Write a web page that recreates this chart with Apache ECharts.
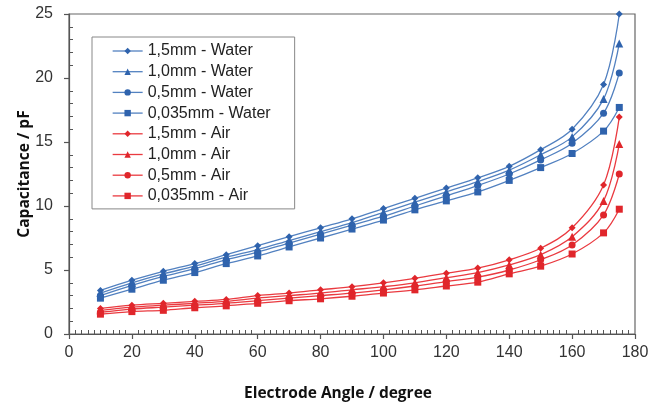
<!DOCTYPE html>
<html>
<head>
<meta charset="utf-8">
<script src="https://cdn.jsdelivr.net/npm/echarts@6/dist/echarts.min.js"></script>
<style>
  html, body { margin: 0; padding: 0; background: #fff; }
  #chart { width: 651px; height: 403px; }
</style>
</head>
<body>
<div id="chart"></div>
<script>
// electrode angle (degree)
const angles = [10, 20, 30, 40, 50, 60, 70, 80, 90, 100, 110, 120, 130, 140, 150, 160, 170, 175]

// capacitance (pF), water
const water15 = [3.4, 4.2, 4.9, 5.5, 6.2, 6.9, 7.6, 8.3, 9.0, 9.8, 10.6, 11.4, 12.2, 13.1, 14.4, 16.0, 19.5, 25.0]
const water10 = [3.2, 4.0, 4.7, 5.3, 6.0, 6.6, 7.3, 8.0, 8.7, 9.5, 10.3, 11.1, 11.9, 12.8, 14.0, 15.4, 18.35, 22.7]
const water05 = [3.0, 3.8, 4.5, 5.1, 5.8, 6.4, 7.1, 7.8, 8.5, 9.2, 10.0, 10.8, 11.6, 12.5, 13.6, 14.9, 17.25, 20.4]
const water0035 = [2.8, 3.5, 4.2, 4.8, 5.5, 6.1, 6.8, 7.5, 8.2, 8.9, 9.7, 10.4, 11.1, 12.0, 13.0, 14.1, 15.85, 17.7]

// capacitance (pF), air
const air15 = [2.0, 2.25, 2.4, 2.55, 2.7, 3.0, 3.2, 3.45, 3.7, 4.0, 4.35, 4.75, 5.15, 5.8, 6.7, 8.3, 11.65, 16.95]
const air10 = [1.85, 2.1, 2.25, 2.4, 2.55, 2.8, 3.0, 3.2, 3.45, 3.7, 4.0, 4.4, 4.8, 5.4, 6.2, 7.6, 10.4, 14.85]
const air05 = [1.7, 1.95, 2.1, 2.25, 2.4, 2.6, 2.8, 3.0, 3.2, 3.45, 3.75, 4.1, 4.45, 5.0, 5.8, 6.95, 9.3, 12.5]
const air0035 = [1.55, 1.75, 1.85, 2.05, 2.2, 2.4, 2.6, 2.75, 2.95, 3.2, 3.45, 3.75, 4.05, 4.7, 5.3, 6.25, 7.9, 9.75]

const seriesNames = [
  '1,5mm - Water', '1,0mm - Water', '0,5mm - Water', '0,035mm - Water',
  '1,5mm - Air', '1,0mm - Air', '0,5mm - Air', '0,035mm - Air'
]
const seriesValues = [water15, water10, water05, water0035, air15, air10, air05, air0035]
const symbols = ['diamond', 'triangle', 'circle', 'rect']

const BLUE_LINE = '#5281c0'
const BLUE_MARK = '#2f63ad'
const RED_LINE = '#ea3a40'
const RED_MARK = '#e0262b'

const tickFont = 'Liberation Sans, Arial, sans-serif'
const titleFont = 'Open Sans, sans-serif'

function makeSeries(name, values, index) {
  const isWater = index < 4
  const shape = symbols[index % 4]
  return {
    name: name,
    type: 'line',
    smooth: 0.35,
    symbol: shape,
    symbolSize: shape === 'triangle' ? 8 : 7,
    lineStyle: { color: isWater ? BLUE_LINE : RED_LINE, width: 1.3 },
    itemStyle: { color: isWater ? BLUE_MARK : RED_MARK },
    emphasis: { disabled: true },
    z: isWater ? 3 : 2,
    data: angles.map((a, i) => [a, values[i]])
  }
}

const chart = echarts.init(document.getElementById('chart'))

const axisLineStyle = { color: '#555', width: 1.2 }

chart.setOption({
  animation: false,
  grid: {
    left: 69,
    right: 16,
    top: 14,
    bottom: 69,
    show: true,
    outerBoundsMode: 'none',
    borderColor: '#666',
    borderWidth: 1.2,
    backgroundColor: 'transparent'
  },
  legend: {
    orient: 'vertical',
    left: 92,
    top: 37,
    padding: [6, 24, 5, 20],
    itemWidth: 30,
    itemHeight: 8,
    itemGap: 4.7,
    borderColor: '#888',
    borderWidth: 1,
    backgroundColor: '#fff',
    itemStyle: { borderWidth: 0 },
    lineStyle: { width: 1.3 },
    textStyle: { fontFamily: tickFont, fontSize: 16, color: '#222' },
    data: seriesNames
  },
  xAxis: [
    {
      type: 'value',
      position: 'bottom',
      min: 0,
      max: 180,
      interval: 20,
      name: 'Electrode Angle / degree',
      nameLocation: 'middle',
      nameGap: 52,
      nameMoveOverlap: false,
      nameTextStyle: { fontFamily: titleFont, fontWeight: 'bold', fontSize: 15.5, color: '#111', padding: [0, 28, 0, 0] },
      axisLine: { lineStyle: axisLineStyle },
      axisTick: { show: true, length: 5, lineStyle: axisLineStyle },
      axisLabel: { fontFamily: tickFont, fontSize: 16, color: '#333', margin: 11 },
      splitLine: { show: false }
    },
    {
      // minor ticks drawn inside the plot
      type: 'value',
      position: 'bottom',
      min: 0,
      max: 180,
      interval: 20,
      axisLine: { show: false },
      axisTick: { show: false, inside: true },
      minorTick: { show: true, splitNumber: 10, length: 4, lineStyle: { color: '#555', width: 1 } },
      axisLabel: { show: false },
      splitLine: { show: false }
    }
  ],
  yAxis: [
    {
      type: 'value',
      position: 'left',
      min: 0,
      max: 25,
      interval: 5,
      name: 'Capacitance / pF',
      nameLocation: 'middle',
      nameGap: 36,
      nameMoveOverlap: false,
      nameTextStyle: { fontFamily: titleFont, fontWeight: 'bold', fontSize: 15.5, color: '#111' },
      axisLine: { show: true, lineStyle: axisLineStyle },
      axisTick: { show: true, length: 5, lineStyle: axisLineStyle },
      axisLabel: { fontFamily: tickFont, fontSize: 16, color: '#333', margin: 16 },
      splitLine: { show: false }
    },
    {
      type: 'value',
      position: 'left',
      min: 0,
      max: 25,
      interval: 5,
      axisLine: { show: false },
      axisTick: { show: false, inside: true },
      minorTick: { show: true, splitNumber: 5, length: 4, lineStyle: { color: '#555', width: 1 } },
      axisLabel: { show: false },
      splitLine: { show: false }
    }
  ],
  series: seriesNames.map((name, i) => makeSeries(name, seriesValues[i], i))
})
</script>
</body>
</html>
